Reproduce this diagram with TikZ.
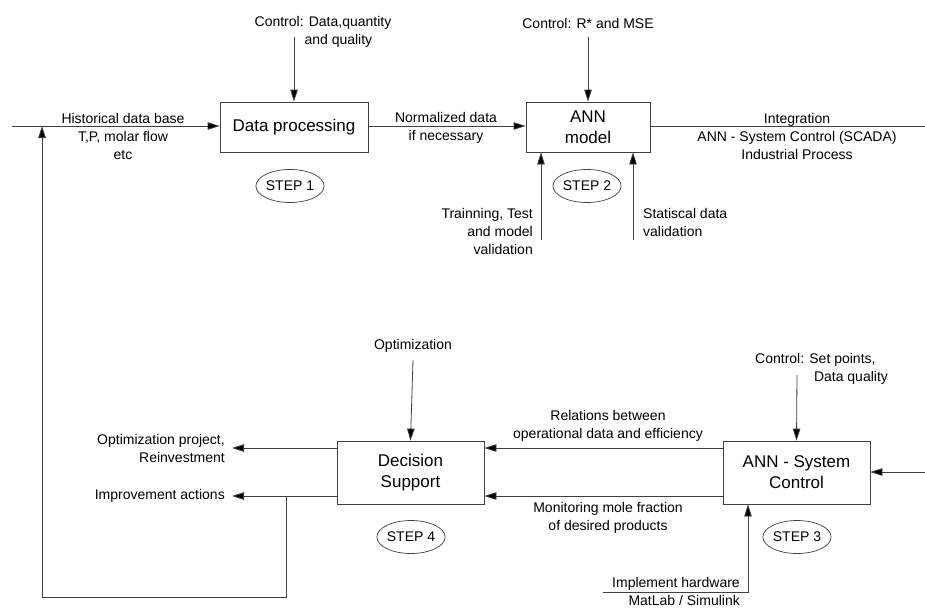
\documentclass[tikz,border=0pt]{standalone}
\usepackage{fontspec}
\setmainfont{Liberation Sans}
\usetikzlibrary{arrows.meta,shapes.geometric}
\begin{document}
\begin{tikzpicture}[x=1pt,y=-1pt,
  ln/.style={draw=black!75, line width=0.8pt},
  arr/.style={ln, -{Triangle[length=12pt,width=7.5pt,fill=black]}},
  box/.style={draw=black!75, line width=0.8pt, minimum width=#1, align=center, font=\fontsize{17}{21}\selectfont, inner sep=0pt},
  lbl/.style={font=\fontsize{14}{18}\selectfont, inner sep=0pt, align=center},
  stepnode/.style={draw=black!75, line width=0.7pt, ellipse, minimum width=59pt, minimum height=33pt, inner sep=0pt, font=\fontsize{14}{16}\selectfont}]
\useasboundingbox (0,0) rectangle (925,608);
% boxes
\node[box=148pt, minimum height=50pt] (dp) at (294,127) {Data processing};
\node[box=124pt, minimum height=50pt] (ann) at (588,127) {ANN\\model};
\node[box=147pt, minimum height=63pt] (ds) at (410.5,472.5) {Decision\\Support};
\node[box=147pt, minimum height=63pt] (sc) at (796.5,472.5) {ANN - System\\Control};
% steps
\node[stepnode] (s1) at (290,186) {STEP 1};
\node[stepnode] (s2) at (587,186) {STEP 2};
\node[stepnode] (s4) at (411,537) {STEP 4};
\node[stepnode] (s3) at (797,537) {STEP 3};
% coordinates
\coordinate (in0) at (12,126);
\coordinate (out0) at (925,126);
\coordinate (c1) at (294,37);
\coordinate (c2) at (588,37);
\coordinate (t1) at (541,240);
\coordinate (t2) at (633,240);
\coordinate (c3) at (797,375);
\coordinate (c4) at (413,360);
\coordinate (rin) at (925,472);
\coordinate (hw0) at (603,592);
\coordinate (hw1) at (748,592);
\coordinate (o1) at (232,448);
\coordinate (o2) at (232,496);
\coordinate (fb0) at (286,496);
\coordinate (fb1) at (286,597);
\coordinate (fb2) at (42,597);
\coordinate (fb3) at (42,126);
% connectors
\draw[arr] (in0) -- (dp.west |- in0);
\draw[arr] (dp.east |- in0) -- (ann.west |- in0);
\draw[ln] (ann.east |- out0) -- (out0);
\draw[arr] (c1) -- (dp.north);
\draw[arr] (c2) -- (ann.north);
\draw[arr] (t1) -- (t1 |- ann.south);
\draw[arr] (t2) -- (t2 |- ann.south);
\draw[arr] (rin) -- (sc.east |- rin);
\draw[arr] (c3) -- (sc.north);
\draw[arr] (hw0) -- (hw1) -- (hw1 |- sc.south);
\draw[arr] (sc.west |- o1) -- (ds.east |- o1);
\draw[arr] (sc.west |- o2) -- (ds.east |- o2);
\draw[arr] (ds.west |- o1) -- (o1);
\draw[arr] (ds.west |- o2) -- (o2);
\draw[arr] (fb0) -- (fb1) -- (fb2) -- (fb3);
\draw[arr] (c4) -- (ds.north);
% labels
\node[lbl] (lc1) at (323,32) {Control: Data,quantity\\\hspace*{2.2em}and quality};
\node[lbl] (lc2) at (588,23) {Control: R* and MSE};
\node[lbl] (lhist) at (123,136) {Historical data base\\T,P, molar flow\\etc};
\node[lbl] (lnorm) at (446,128) {Normalized data\\if necessary};
\node[lbl] (lint) at (797,136) {Integration\\ANN - System Control (SCADA)\\Industrial Process};
\node[lbl, anchor=north east, align=right] (ltr) at (533,208) {Trainning, Test\\and model\\validation};
\node[lbl, anchor=north west, align=left] (lst) at (643,208) {Statiscal data\\validation};
\node[lbl] (lopt) at (413,346) {Optimization};
\node[lbl, anchor=north west, align=left] (lset) at (755,353) {Control: Set points,\\\hspace*{4.2em}Data quality};
\node[lbl] (lrel) at (608,426) {Relations between\\operational data and efficiency};
\node[lbl] (lmon) at (608,518) {Monitoring mole fraction\\of desired products};
\node[lbl, anchor=east, align=right] (lop) at (225,448) {Optimization project,\\Reinvestment};
\node[lbl, anchor=east] (limp) at (225,496) {Improvement actions};
\node[lbl, anchor=base east] (lhw) at (740,587) {Implement hardware};
\node[lbl, anchor=base east] (lml) at (740,605) {MatLab / Simulink};
\end{tikzpicture}
\end{document}
